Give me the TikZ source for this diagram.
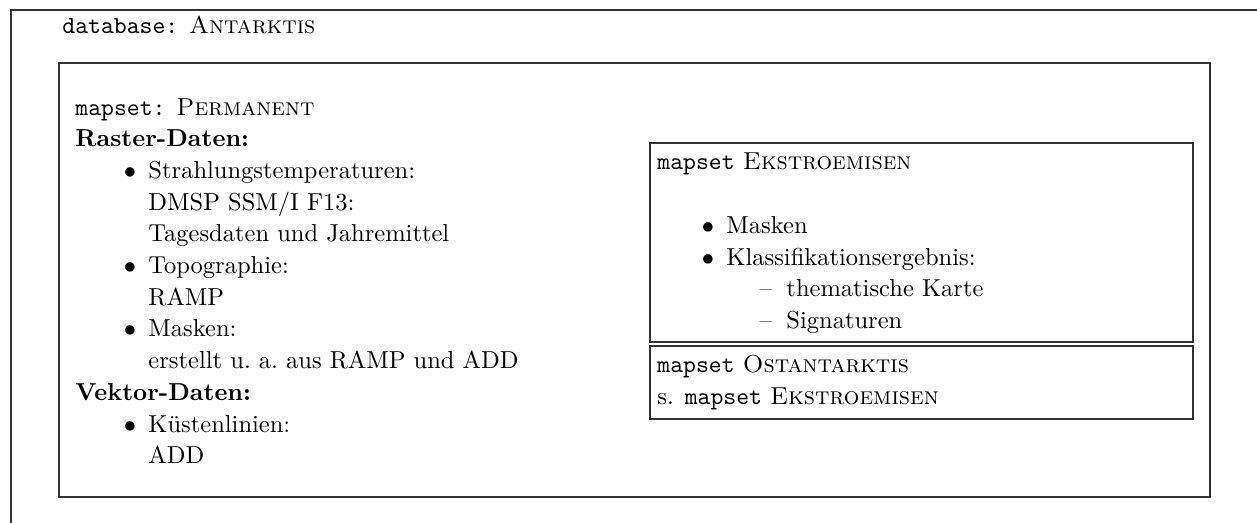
\documentclass[tikz,border=0pt]{standalone}
\usepackage{fontspec}
\usepackage{amsmath}
\usepackage{xcolor}
\usepackage{tikz}

\begin{document}
\begin{tikzpicture}[x=0.408pt,y=0.408pt,yscale=-1,
  txt/.style={inner sep=0pt, anchor=base west},
  frame/.style={line width=0.45pt, color=black!80}]
\useasboundingbox (0,0) rectangle (1257,523);

%Frame: database
\draw [frame] (11,523) -- (11,10) -- (1257,10) ;
%Shape: Rectangle mapset Permanent
\draw [frame] (59,63) rectangle (1210,497) ;
%Shape: Rectangle mapset Ekstroemisen
\draw [frame] (650,143) rectangle (1193,342) ;
%Shape: Rectangle mapset Ostantarktis
\draw [frame] (650,346) rectangle (1193,419) ;

% Text Node
\node [txt] (db) at (62,33) {\texttt{database:} \textsc{Antarktis}};
% Text Node
\node [txt] (perm) at (75,115) {\texttt{mapset:} \textsc{Permanent}};
\node [txt] (raster) at (75,146.7) {\textbf{Raster-Daten:}};
\node [txt] (strahl) at (148,178.4) {\llap{$\bullet$\hspace{5pt}}Strahlungstemperaturen:};
\node [txt] (dmsp) at (148,210) {DMSP SSM/I F13:};
\node [txt] (tages) at (148,241.8) {Tagesdaten und Jahremittel};
\node [txt] (topo) at (148,273.5) {\llap{$\bullet$\hspace{5pt}}Topographie:};
\node [txt] (ramp) at (148,305.2) {RAMP};
\node [txt] (masken) at (148,336.9) {\llap{$\bullet$\hspace{5pt}}Masken:};
\node [txt] (erst) at (148,368.6) {erstellt u.\ a.\ aus RAMP und ADD};
\node [txt] (vektor) at (75,400.3) {\textbf{Vektor-Daten:}};
\node [txt] (kueste) at (148,432) {\llap{$\bullet$\hspace{5pt}}Küstenlinien:};
\node [txt] (add) at (148,463.7) {ADD};

% Text Node
\node [txt] (ekst) at (657,169.3) {\texttt{mapset} \textsc{Ekstroemisen}};
\node [txt] (ekmask) at (726,233) {\llap{$\bullet$\hspace{5pt}}Masken};
\node [txt] (klass) at (726,265) {\llap{$\bullet$\hspace{5pt}}Klassifikationsergebnis:};
\node [txt] (them) at (786,296.7) {\llap{\textendash\hspace{6pt}}thematische Karte};
\node [txt] (sign) at (786,328.4) {\llap{\textendash\hspace{6pt}}Signaturen};

% Text Node
\node [txt] (ost) at (657,372.7) {\texttt{mapset} \textsc{Ostantarktis}};
\node [txt] (ostref) at (657,404.3) {s. \texttt{mapset} \textsc{Ekstroemisen}};

\end{tikzpicture}
\end{document}
